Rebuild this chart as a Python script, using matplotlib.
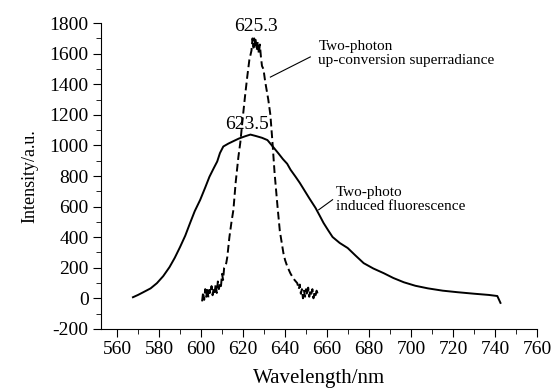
#!/usr/bin/env python

import matplotlib
matplotlib.use('Agg')
import matplotlib.pyplot as plt
from matplotlib.ticker import MultipleLocator

plt.rc("font", family="Liberation Serif", size=14)
plt.rc("axes", unicode_minus=False)

# two-photon induced fluorescence (solid)
fl_wl = [567.6, 570, 572.4, 576, 579, 582, 585, 587.5, 590, 592.5, 594.8, 597, 599.6,
         602, 604, 606, 607.7, 609, 610.6, 613, 615.4, 618, 621, 623.5, 626, 629, 631.6,
         634.5, 637, 639, 641, 642.6, 645, 647, 648.8, 651.5, 654.5, 656.5, 658.3,
         660.5, 662.6, 666, 669.8, 673.5, 677.4, 682, 687, 691.5, 696.5, 702, 708,
         715, 722, 730, 737, 741, 742.5]
fl_int = [7, 22, 39, 65, 99, 145, 204, 265, 335, 410, 493, 570, 644,
          725, 795, 850, 895, 950, 993, 1012, 1028, 1045, 1060, 1071, 1062, 1050, 1035,
          987, 945, 910, 880, 841, 795, 755, 715, 655, 591, 540, 493,
          445, 401, 362, 329, 280, 230, 195, 164, 133, 105, 82, 65,
          50, 40, 30, 22, 15, -30]

# two-photon up-conversion superradiance (dashed)
sr_wl = [600.5, 601, 601.5, 602, 602.5, 603, 603.5, 604, 604.5, 605, 605.5, 606,
         606.5, 607, 607.5, 608, 608.5, 609, 609.5, 610, 610.5, 611,
         612, 612.5, 613.5, 614.5, 615.4, 616.5, 617.8, 618.7, 620, 621, 622, 623, 624, 624.5,
         625, 625.3, 625.7, 626, 626.5, 627, 627.5, 628, 628.5, 629, 629.7, 630.5, 631.5, 632, 633, 634, 635,
         636.4, 637.5, 639.2, 640, 641, 642.5, 643.5, 644.5, 645.8, 646.5, 647, 647.5,
         648, 648.5, 649, 649.5, 650, 650.5, 651, 651.5, 652, 652.5, 653, 653.5, 654, 654.5, 655, 655.5]
sr_int = [-20, 40, -10, 60, 10, 70, 5, 55, 30, 80, 20, 65,
          40, 95, 35, 110, 60, 99, 80, 160, 120, 200,
          230, 270, 400, 500, 578, 760, 927, 1020, 1200, 1330, 1450, 1560, 1620, 1700,
          1640, 1700, 1660, 1690, 1620, 1680, 1600, 1660, 1580, 1520, 1500, 1420, 1340, 1300, 1200, 1020, 820,
          600, 440, 296, 250, 210, 164, 140, 120, 99, 60, 90, 30,
          60, 0, 50, 10, 60, 20, 70, 10, 50, 30, 60, 0, 40, 20, 50, 30]

xticks = list(range(560, 761, 20))
yticks = list(range(-200, 1801, 200))

fig = plt.figure(figsize=(5.55, 3.92), dpi=100)
ax = fig.add_axes([0.182, 0.161, 0.786, 0.78])

ax.plot(fl_wl, fl_int, "k-", lw=1.4)
ax.plot(sr_wl, sr_int, "k", lw=1.4, ls=(0, (4, 2)))

ax.set_xlim(552.4, 760)
ax.set_ylim(-200, 1800)
ax.set_xticks(xticks)
ax.set_yticks(yticks)
ax.xaxis.set_minor_locator(MultipleLocator(10))
ax.yaxis.set_minor_locator(MultipleLocator(100))
ax.tick_params(which="both", direction="out", labelsize=14)
ax.tick_params(which="major", length=6, pad=3)
ax.tick_params(which="minor", length=3.5)
for s in ("top", "right"):
	ax.spines[s].set_visible(False)

ax.set_xlabel("Wavelength/nm", fontsize=15, labelpad=8)
ax.set_ylabel("Intensity/a.u.", fontsize=13, labelpad=8)

# peak labels
ax.text(626, 1775, "625.3", ha="center", va="center", fontsize=14)
ax.text(622, 1140, "623.5", ha="center", va="center", fontsize=14)

# annotations
ax.plot([633, 652], [1447, 1579], "k-", lw=0.8)
ax.text(655.8, 1600, "Two-photon\nup-conversion superradiance", ha="left",
        va="center", fontsize=11, linespacing=1.1)
ax.plot([656, 662.6], [579, 645], "k-", lw=0.8)
ax.text(664, 645, "Two-photo\ninduced fluorescence", ha="left",
        va="center", fontsize=11, linespacing=1.1)

plt.savefig("out.png", dpi=100)
